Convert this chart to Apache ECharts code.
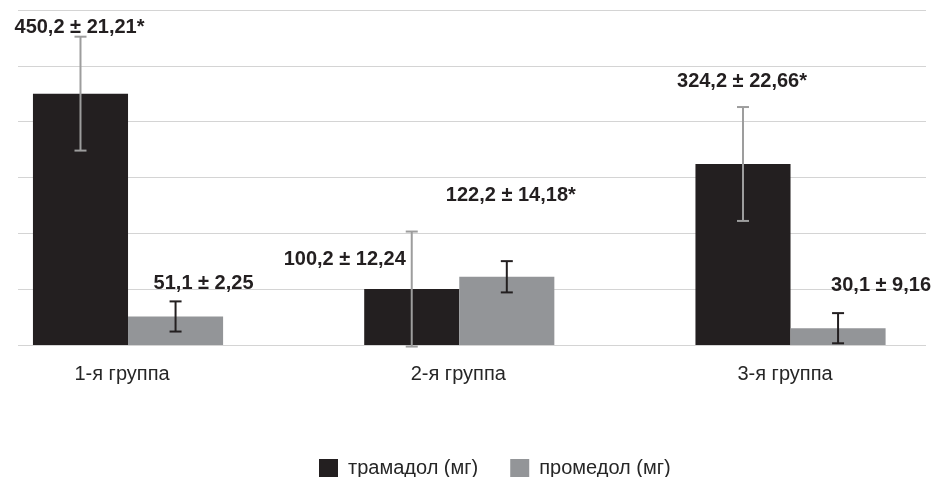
<!DOCTYPE html>
<html>
<head>
<meta charset="utf-8">
<script src="https://cdn.jsdelivr.net/npm/echarts@6/dist/echarts.min.js"></script>
<style>
html,body{margin:0;padding:0;background:#fff;}
#chart{width:935px;height:477px;}
</style>
</head>
<body>
<div id="chart"></div>
<script>
// ---- data ----
const categories = ['1-я группа', '2-я группа', '3-я группа'];
const seriesNames = ['трамадол (мг)', 'промедол (мг)'];
const tramadol = [450.2, 100.2, 324.2];
const promedol = [51.1, 122.2, 30.1];
// error bar half-lengths as drawn in the picture
const tramadolErr = [102, 103, 102];
const promedolErr = [27, 28, 27];
const tramadolLabels = ['450,2 ± 21,21*', '100,2 ± 12,24', '324,2 ± 22,66*'];
const promedolLabels = ['51,1 ± 2,25', '122,2 ± 14,18*', '30,1 ± 9,16'];
const yTicks = [0, 100, 200, 300, 400, 500, 600];

// ---- layout / style ----
const FONT = '"Liberation Sans", Arial, sans-serif';
const DARK = '#231f20';
const GREY = '#939598';
const catGap = 0.426;
// label offsets relative to (bar centre, error-bar top) in px
const tramLabelOff = [[-1, -9], [-67, 28], [-1, -26]];
const promLabelOff = [[28, -18], [4, -66], [43, -28]];

const chart = echarts.init(document.getElementById('chart'));

function errSeries(name, vals, errs, labels, offs, side, lineColor) {
  return {
    type: 'custom',
    name: name + ' err',
    xAxisIndex: 1, yAxisIndex: 1,
    z: 5,
    data: vals.map((v, i) => [i, v - errs[i], v + errs[i]]),
    renderItem: function (params, api) {
      const i = api.value(0);
      const lo = api.coord([i, api.value(1)]);
      const hi = api.coord([i, api.value(2)]);
      const band = api.size([1, 0])[0];
      const bw = band * (1 - catGap) / 2;
      const x = lo[0] + side * bw / 2;
      const cap = 6;
      const off = offs[params.dataIndex];
      return {
        type: 'group',
        children: [
          { type: 'line', shape: { x1: x, y1: lo[1], x2: x, y2: hi[1] }, style: { stroke: lineColor, lineWidth: 2 } },
          { type: 'line', shape: { x1: x - cap, y1: hi[1], x2: x + cap, y2: hi[1] }, style: { stroke: lineColor, lineWidth: 2 } },
          { type: 'line', shape: { x1: x - cap, y1: lo[1], x2: x + cap, y2: lo[1] }, style: { stroke: lineColor, lineWidth: 2 } },
          { type: 'text', style: { text: labels[params.dataIndex], x: x + off[0], y: hi[1] + off[1],
              align: 'center', verticalAlign: 'middle', fill: DARK,
              font: 'bold 20px ' + FONT } }
        ]
      };
    }
  };
}

const option = {
  animation: false,
  backgroundColor: '#fff',
  textStyle: { fontFamily: FONT },
  grid: [
    { left: 18, right: 9, top: 10, height: 335, outerBoundsMode: 'none', containLabel: false },
    { left: -37.6, right: -21.15, top: 10, height: 335, outerBoundsMode: 'none', containLabel: false }
  ],
  xAxis: [
    { type: 'category', gridIndex: 0, data: categories, axisLine: { show: false }, axisTick: { show: false }, axisLabel: { show: false } },
    { type: 'category', gridIndex: 1, data: categories, axisLine: { show: false }, axisTick: { show: false },
      axisLabel: {
        margin: 19, color: '#262626', fontSize: 20, fontFamily: FONT,
        formatter: (v, i) => '{s' + i + '|' + v + '}',
        rich: {
          s0: { fontSize: 20, fontFamily: FONT, color: '#262626', padding: [0, 12, 0, 0] },
          s1: { fontSize: 20, fontFamily: FONT, color: '#262626', padding: [0, 2, 0, 0] },
          s2: { fontSize: 20, fontFamily: FONT, color: '#262626', padding: [0, 11, 0, 0] }
        }
      } }
  ],
  yAxis: [
    { type: 'value', gridIndex: 0, min: yTicks[0], max: yTicks[yTicks.length - 1], interval: yTicks[1] - yTicks[0],
      axisLine: { show: false }, axisTick: { show: false }, axisLabel: { show: false },
      splitLine: { lineStyle: { color: '#d4d4d4', width: 1 } } },
    { type: 'value', gridIndex: 1, min: yTicks[0], max: yTicks[yTicks.length - 1], interval: yTicks[1] - yTicks[0],
      axisLine: { show: false }, axisTick: { show: false }, axisLabel: { show: false }, splitLine: { show: false } }
  ],
  legend: {
    data: seriesNames,
    left: 314, top: 453,
    itemWidth: 19, itemHeight: 18, itemGap: 32,
    icon: 'rect',
    textStyle: { fontSize: 20, color: '#262626', fontFamily: FONT, padding: [0, 0, 0, 5] }
  },
  series: [
    { name: seriesNames[0], type: 'bar', xAxisIndex: 1, yAxisIndex: 1, data: tramadol,
      itemStyle: { color: DARK }, barGap: '0%', barCategoryGap: (catGap * 100) + '%' },
    { name: seriesNames[1], type: 'bar', xAxisIndex: 1, yAxisIndex: 1, data: promedol,
      itemStyle: { color: GREY }, barGap: '0%', barCategoryGap: (catGap * 100) + '%' },
    errSeries(seriesNames[0], tramadol, tramadolErr, tramadolLabels, tramLabelOff, -1, '#9d9d9d'),
    errSeries(seriesNames[1], promedol, promedolErr, promedolLabels, promLabelOff, 1, DARK)
  ]
};
chart.setOption(option);
</script>
</body>
</html>
